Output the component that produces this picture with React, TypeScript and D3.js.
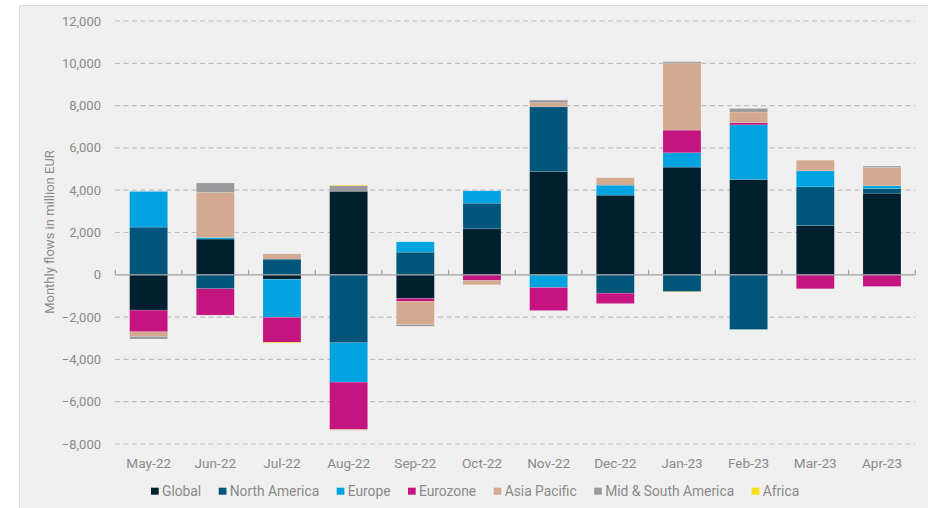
import React, { useEffect, useRef } from "react";
import * as d3 from "d3";

const months = ["May-22", "Jun-22", "Jul-22", "Aug-22", "Sep-22", "Oct-22", "Nov-22", "Dec-22", "Jan-23", "Feb-23", "Mar-23", "Apr-23"];

const seriesNames = ["Global", "North America", "Europe", "Eurozone", "Asia Pacific", "Mid & South America", "Africa"];
const seriesColors = ["#01202f", "#00567a", "#00a3e0", "#c4147f", "#d3a98f", "#9a9a9c", "#f5df1a"];

// monthly flows, million EUR
const globalFlows = [-1670, 1690, -210, 3950, -1120, 2175, 4885, 3765, 5090, 4505, 2330, 3860];
const northAmerica = [2255, -660, 740, -3215, 1070, 1210, 3060, -870, -800, -2585, 1830, 220];
const europe = [1685, 75, -1800, -1860, 490, 585, -600, 475, 680, 2585, 755, 130];
const eurozone = [-1025, -1245, -1180, -2235, -140, -270, -1090, -490, 1070, 100, -660, -550];
const asiaPacific = [-220, 2130, 250, -40, -1090, -200, 190, 350, 3170, 505, 505, 865];
const midSouthAmerica = [-120, 445, 0, 270, -80, 0, 125, 0, 65, 170, 0, 65];
const africa = [0, 0, -40, 30, 0, 0, 0, 0, -20, 0, 0, 0];

const yTicks = [-8000, -6000, -4000, -2000, 0, 2000, 4000, 6000, 8000, 10000, 12000];

const App = () => {
  const svgRef = useRef<SVGSVGElement>(null);

  useEffect(() => {
    document.body.style.margin = "0";
    const w = 928;
    const h = 508;
    const font = "Roboto, 'DejaVu Sans', sans-serif";
    const svg = d3.select(svgRef.current).attr("width", w).attr("height", h);
    svg.selectAll("*").remove();

    const all = [globalFlows, northAmerica, europe, eurozone, asiaPacific, midSouthAmerica, africa];
    const rows = months.map((m, i) => {
      const r: any = { month: m };
      seriesNames.forEach((s, j) => (r[s] = all[j][i]));
      return r;
    });

    const stacked = d3.stack().keys(seriesNames).offset(d3.stackOffsetDiverging)(rows);

    const x = d3.scaleBand().domain(months).range([115.3, 915.3]).paddingInner(0.43).paddingOuter(0.215);
    const y = d3.scaleLinear().domain([-8000, 12000]).range([444, 21]);

    // panel
    svg.append("rect").attr("width", w).attr("height", h).attr("fill", "#ffffff");
    svg
      .append("rect")
      .attr("x", 19.5)
      .attr("y", 5.5)
      .attr("width", w)
      .attr("height", h)
      .attr("fill", "#f0f0f0")
      .attr("stroke", "#dcdcdc");

    // grid
    svg
      .append("g")
      .selectAll("line")
      .data(yTicks.filter((t) => t !== 0))
      .join("line")
      .attr("x1", 115)
      .attr("x2", 915)
      .attr("y1", (d) => y(d))
      .attr("y2", (d) => y(d))
      .attr("stroke", "#bdbdbd")
      .attr("stroke-width", 1.2)
      .attr("stroke-dasharray", "5,3.5");

    // y labels
    svg
      .append("g")
      .selectAll("text")
      .data(yTicks)
      .join("text")
      .attr("x", 101)
      .attr("y", (d) => y(d))
      .attr("dy", "0.35em")
      .attr("text-anchor", "end")
      .attr("font-family", font)
      .attr("font-size", 13)
      .attr("fill", "#8a8a8a")
      .text((d) => d3.format(",")(d));

    svg
      .append("text")
      .attr("transform", `translate(53.5,232) rotate(-90)`)
      .attr("text-anchor", "middle")
      .attr("font-family", font)
      .attr("font-size", 13)
      .attr("fill", "#8a8a8a")
      .text("Monthly flows in million EUR");

    // bars
    svg
      .append("g")
      .selectAll("g")
      .data(stacked)
      .join("g")
      .attr("fill", (d, i) => seriesColors[i])
      .selectAll("rect")
      .data((d) => d.map((p) => ({ p, month: (p as any).data.month })))
      .join("rect")
      .attr("x", (d) => x(d.month)!)
      .attr("width", x.bandwidth())
      .attr("y", (d) => y(Math.max(d.p[0], d.p[1])))
      .attr("height", (d) => Math.abs(y(d.p[0]) - y(d.p[1])))
      .attr("stroke", "#ffffff")
      .attr("stroke-opacity", 0.25)
      .attr("stroke-width", 0.6);

    // zero axis with ticks at band edges
    const step = x.step();
    const x0 = x.range()[0];
    svg
      .append("line")
      .attr("x1", x0)
      .attr("x2", x.range()[1])
      .attr("y1", y(0))
      .attr("y2", y(0))
      .attr("stroke", "#a0a0a0")
      .attr("stroke-width", 1.2);
    svg
      .append("g")
      .selectAll("line")
      .data(d3.range(months.length + 1))
      .join("line")
      .attr("x1", (i) => x0 + i * step)
      .attr("x2", (i) => x0 + i * step)
      .attr("y1", y(0))
      .attr("y2", y(0) - 5)
      .attr("stroke", "#a0a0a0")
      .attr("stroke-width", 1.2);

    // x labels
    svg
      .append("g")
      .selectAll("text")
      .data(months)
      .join("text")
      .attr("x", (d) => x(d)! + x.bandwidth() / 2)
      .attr("y", 463)
      .attr("dy", "0.35em")
      .attr("text-anchor", "middle")
      .attr("font-family", font)
      .attr("font-size", 13.6)
      .attr("fill", "#8a8a8a")
      .text((d) => d);

    // legend
    const legend = svg.append("g");
    let lx = 151;
    seriesNames.forEach((name, i) => {
      legend.append("rect").attr("x", lx).attr("y", 487.7).attr("width", 7.7).attr("height", 7).attr("fill", seriesColors[i]);
      const t = legend
        .append("text")
        .attr("x", lx + 11)
        .attr("y", 491.2)
        .attr("dy", "0.35em")
        .attr("font-family", font)
        .attr("font-size", 13.8)
        .attr("fill", "#8a8a8a")
        .text(name);
      lx += 11 + (t.node() as SVGTextElement).getComputedTextLength() + 17.5;
    });
  }, []);

  return <svg ref={svgRef} style={{ display: "block" }} />;
};

export default App;
